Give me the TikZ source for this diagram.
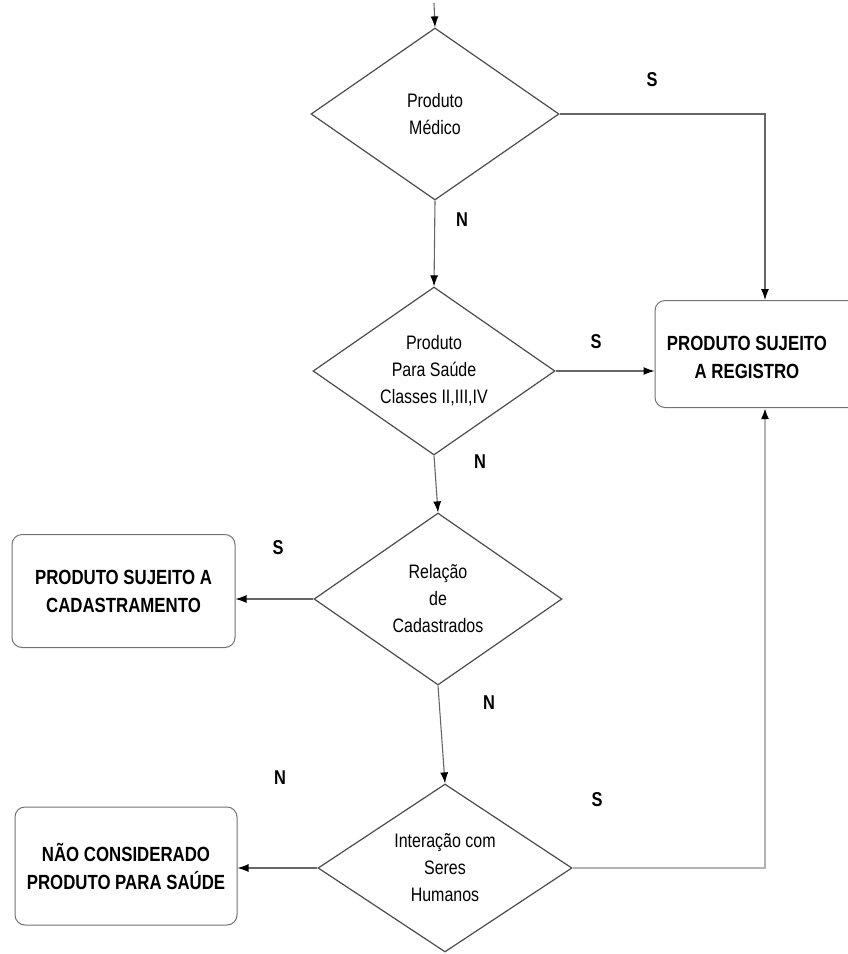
\documentclass[tikz,border=0pt]{standalone}
\usepackage{fontspec}
\setmainfont{Liberation Sans}[FakeStretch=0.82]
\usetikzlibrary{shapes.geometric,arrows.meta}
\begin{document}
\begin{tikzpicture}[x=1pt,y=-1pt,
  dec/.style={diamond, draw=black!70, line width=1.2pt, shape aspect=1.44,
    minimum width=248pt, minimum height=172pt, inner sep=0pt, align=center,
    font=\fontsize{19.5}{27}\selectfont},
  endbox/.style={rectangle, rounded corners=10pt, draw=black!55, line width=1pt,
    align=center, font=\bfseries\fontsize{20.5}{28}\selectfont},
  boxtext/.style={align=center, font=\bfseries\fontsize{20.5}{28}\selectfont},
  lbl/.style={font=\bfseries\fontsize{20}{22}\selectfont},
  conn/.style={draw=black!60, line width=1.1pt, -{Latex[length=11pt,width=8pt,color=black]}}]
\useasboundingbox (0,0) rectangle (847,954);
\fill[white] (0,0) rectangle (847,954);

\node[dec] (d1) at (435,114) {Produto\\Médico};
\node[dec, minimum width=242pt, minimum height=168pt] (d2) at (434,371) {Produto\\Para Saúde\\Classes II,III,IV};
\node[dec] (d3) at (438,599) {Relação\\de\\Cadastrados};
\node[dec, minimum width=254pt, minimum height=168pt] (d4) at (445,868) {Interação com\\Seres\\Humanos};

\node[endbox, minimum width=260pt, minimum height=107pt] (b1) at (785,354) {};
\node[boxtext] (b1t) at (747,357) {PRODUTO SUJEITO\\A REGISTRO};
\node[endbox, minimum width=223pt, minimum height=113pt] (b2) at (123.5,591) {PRODUTO SUJEITO A\\CADASTRAMENTO};
\node[endbox, minimum width=222pt, minimum height=118pt] (b3) at (126,866) {NÃO CONSIDERADO\\PRODUTO PARA SAÚDE};

\coordinate (start) at (434,3);
\draw[conn] (start) -- (d1.north);
\draw[conn] (d1.east) -| ([xshift=-20pt]b1.north);
\draw[conn] (d1.south) -- (d2.north);
\draw[conn] (d2.east) -- (d2.east -| b1.west);
\draw[conn] (d2.south) -- (d3.north);
\draw[conn] (d3.west) -- (d3.west -| b2.east);
\draw[conn] (d3.south) -- (d4.north);
\draw[conn] (d4.west) -- (d4.west -| b3.east);
\draw[conn, draw=black!30, line width=2pt] (d4.east) -| ([xshift=-20pt]b1.south);

\node[lbl] (s1) at (652,80) {S};
\node[lbl] (n1) at (462,220) {N};
\node[lbl] (s2) at (596,342) {S};
\node[lbl] (n2) at (480,462) {N};
\node[lbl] (s3) at (278,548) {S};
\node[lbl] (n3) at (489,703) {N};
\node[lbl] (n4) at (280,778) {N};
\node[lbl] (s4) at (597,800) {S};
\end{tikzpicture}
\end{document}
